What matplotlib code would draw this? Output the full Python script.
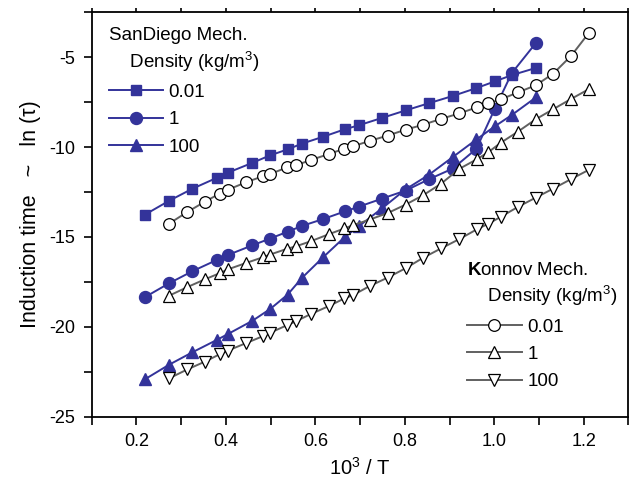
import numpy as np
import matplotlib
matplotlib.use('Agg')
import matplotlib.pyplot as plt
from matplotlib.ticker import MultipleLocator

plt.rcParams['font.family'] = ['Liberation Sans', 'DejaVu Sans']
plt.rcParams['mathtext.fontset'] = 'custom'
plt.rcParams['mathtext.rm'] = 'Liberation Sans'
plt.rcParams['mathtext.it'] = 'Liberation Sans:italic'
plt.rcParams['mathtext.bf'] = 'Liberation Sans:bold'
plt.rcParams['axes.unicode_minus'] = False

# SanDiego mechanism (1000/T, ln tau)
sd_x = [0.219, 0.273, 0.325, 0.379, 0.404, 0.459, 0.499, 0.538, 0.570, 0.617,
        0.666, 0.697, 0.749, 0.802, 0.854, 0.907, 0.960, 1.001, 1.039, 1.093]
sd_001 = [-13.76, -12.99, -12.32, -11.72, -11.43, -10.88, -10.46, -10.13, -9.81, -9.43,
          -9.01, -8.79, -8.38, -7.96, -7.56, -7.16, -6.72, -6.35, -6.00, -5.60]
sd_1 = [-18.35, -17.58, -16.91, -16.29, -16.01, -15.47, -15.09, -14.71, -14.39, -14.01,
        -13.58, -13.32, -12.87, -12.42, -11.79, -11.20, -10.10, -7.88, -5.89, -4.21]
sd_100 = [-22.92, -22.11, -21.42, -20.74, -20.41, -19.67, -19.01, -18.21, -17.28, -16.14,
          -15.00, -14.41, -13.41, -12.35, -11.54, -10.56, -9.58, -8.85, -8.22, -7.24]

# Konnov mechanism
kn_x = [0.273, 0.314, 0.353, 0.386, 0.404, 0.444, 0.483, 0.499, 0.537, 0.557,
        0.590, 0.630, 0.665, 0.684, 0.721, 0.762, 0.802, 0.841, 0.881, 0.922,
        0.961, 0.987, 1.014, 1.053, 1.093, 1.132, 1.172, 1.212]
kn_001 = [-14.26, -13.61, -13.04, -12.59, -12.38, -11.97, -11.62, -11.50, -11.13, -11.01,
          -10.72, -10.39, -10.09, -9.96, -9.66, -9.36, -9.03, -8.76, -8.43, -8.13,
          -7.79, -7.57, -7.35, -6.96, -6.56, -5.91, -4.92, -3.63]
kn_1 = [-18.27, -17.79, -17.36, -17.02, -16.81, -16.46, -16.13, -15.98, -15.66, -15.52,
        -15.24, -14.85, -14.53, -14.35, -14.04, -13.67, -13.20, -12.68, -12.04, -11.21,
        -10.68, -10.28, -9.77, -9.14, -8.45, -7.89, -7.32, -6.77]
kn_100 = [-22.87, -22.37, -21.94, -21.53, -21.33, -20.92, -20.52, -20.33, -19.91, -19.69,
          -19.29, -18.85, -18.42, -18.24, -17.74, -17.26, -16.74, -16.16, -15.64, -15.12,
          -14.58, -14.26, -13.89, -13.33, -12.81, -12.31, -11.78, -11.26]

labels = ['0.01', '1', '100']

blue = '#33339a'
gray = '#606060'

fig = plt.figure(figsize=(6.3, 4.8), dpi=100)
ax = fig.add_axes([0.1456, 0.132, 0.852, 0.8425])

sd_h = []
for y, m, ms in zip([sd_001, sd_1, sd_100], ['s', 'o', '^'], [7.8, 8.6, 8.6]):
    l, = ax.plot(sd_x, y, color=blue, lw=1.4, marker=m, ms=ms, mfc=blue, mec=blue)
    sd_h.append(l)

kn_h = []
for y, m in zip([kn_001, kn_1, kn_100], ['o', '^', 'v']):
    l, = ax.plot(kn_x, y, color=gray, lw=1.4, marker=m, ms=8.4, mfc='white',
                 mec='black', mew=0.9)
    kn_h.append(l)

ax.set_xlim(0.1, 1.3)
ax.set_ylim(-25, -2.5)
ax.xaxis.set_major_locator(MultipleLocator(0.2))
ax.xaxis.set_minor_locator(MultipleLocator(0.1))
ax.yaxis.set_major_locator(MultipleLocator(5))
ax.yaxis.set_minor_locator(MultipleLocator(2.5))
ax.tick_params(which='both', direction='out', labelsize=13, width=1.2, top=True)
ax.tick_params(which='major', length=6, pad=6)
ax.tick_params(which='minor', length=6)
ax.tick_params(axis='x', which='both', top=True)
for t in ax.xaxis.get_major_ticks() + ax.xaxis.get_minor_ticks():
    t.tick2line.set_markersize(3)
for s in ax.spines.values():
    s.set_linewidth(1.3)

ax.set_xlabel('10$^3$ / T', fontsize=14.5, labelpad=5)
ax.set_ylabel('Induction time   ~   ln (\u03c4)', fontsize=15.5, labelpad=6)

leg1 = ax.legend(sd_h, labels, title='SanDiego Mech.\n    Density (kg/m$^3$)',
                 loc='upper left', bbox_to_anchor=(0.0, 1.005), frameon=False,
                 fontsize=13.5, title_fontsize=13.5, alignment='left',
                 handlelength=2.9, handletextpad=0.3, labelspacing=0.55)
leg1.get_title().set_linespacing(1.3)
ax.add_artist(leg1)

leg2 = ax.legend(kn_h, labels, title='$\\mathbf{K}$onnov Mech.\n    Density (kg/m$^3$)',
                 loc='upper left', bbox_to_anchor=(0.668, 0.425), frameon=False,
                 fontsize=13.5, title_fontsize=13.5, alignment='left',
                 handlelength=2.9, handletextpad=0.3, labelspacing=0.55)
leg2.get_title().set_linespacing(1.3)

fig.savefig('out.png', dpi=100)
